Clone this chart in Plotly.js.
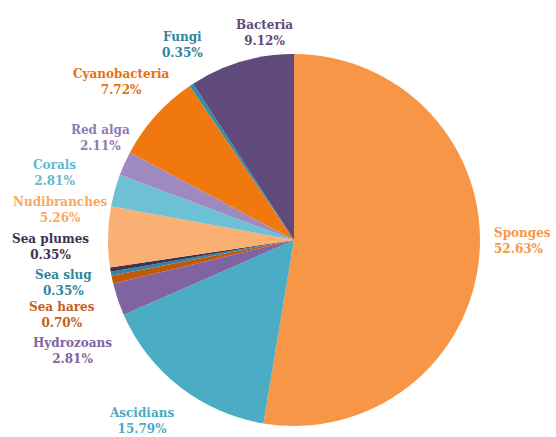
<!DOCTYPE html>
<html>
<head>
<meta charset="utf-8">
<script src="https://cdn.plot.ly/plotly-3.0.1.min.js"></script>
<style>html,body{margin:0;padding:0;background:#fff;}#chart{width:556px;height:437px;}</style>
</head>
<body>
<div id="chart"></div>
<script>
const categories = ["Sponges","Ascidians","Hydrozoans","Sea hares","Sea slug","Sea plumes","Nudibranches","Corals","Red alga","Cyanobacteria","Fungi","Bacteria"];
const counts = [150,45,8,2,1,1,15,8,6,22,1,26];
const percentLabels = ["52.63%","15.79%","2.81%","0.70%","0.35%","0.35%","5.26%","2.81%","2.11%","7.72%","0.35%","9.12%"];
const sliceColors = ["#F79646","#4BACC6","#8064A2","#C0590A","#31859C","#403152","#FAB072","#6EC0D4","#9F8AC0","#F0780E","#2E90A4","#604A7B"];
const labelColors = ["#F79646","#4BACC6","#8064A2","#C0621E","#31859C","#403152","#F9A860","#5FBAD2","#8F7BB5","#E8700C","#31859C","#604A7B"];
// label anchor positions in pixels (x, y center) and alignment
const labelPos = [[492,241,"left"],[141,421,"center"],[72,351,"center"],[62,315,"center"],[63,283,"center"],[50,247,"center"],[60,210,"center"],[55,173,"center"],[100,138,"center"],[121,82,"center"],[182,45,"center"],[264,33,"center"]];

const W = 556, H = 437;
const M = {l:108, r:76, t:54, b:11};
const PW = W - M.l - M.r, PH = H - M.t - M.b;
const FONT = "DejaVu Serif";
const annotations = categories.map((c,i)=>({
  text: "<b>"+c+"</b><br><b>"+percentLabels[i]+"</b>",
  x: (labelPos[i][0]-M.l)/PW, y: 1 - (labelPos[i][1]-M.t)/PH,
  xref:"paper", yref:"paper",
  xanchor: labelPos[i][2], yanchor:"middle",
  align: labelPos[i][2],
  showarrow:false,
  font:{family:FONT, size:12, color:labelColors[i], weight:"bold"}
}));

const data = [{
  type:"pie",
  labels: categories,
  values: counts,
  sort:false,
  direction:"clockwise",
  rotation:0,
  textinfo:"none",
  hoverinfo:"label+percent",
  marker:{colors:sliceColors, line:{width:0}},
  domain:{x:[0,1],y:[0,1]}
}];

const layout = {
  width:W, height:H,
  margin:{l:M.l, r:M.r, t:M.t, b:M.b, pad:0},
  showlegend:false,
  paper_bgcolor:"#fff",
  font:{family:FONT},
  annotations: annotations
};
Plotly.newPlot("chart", data, layout, {displayModeBar:false, staticPlot:true});
</script>
</body>
</html>
